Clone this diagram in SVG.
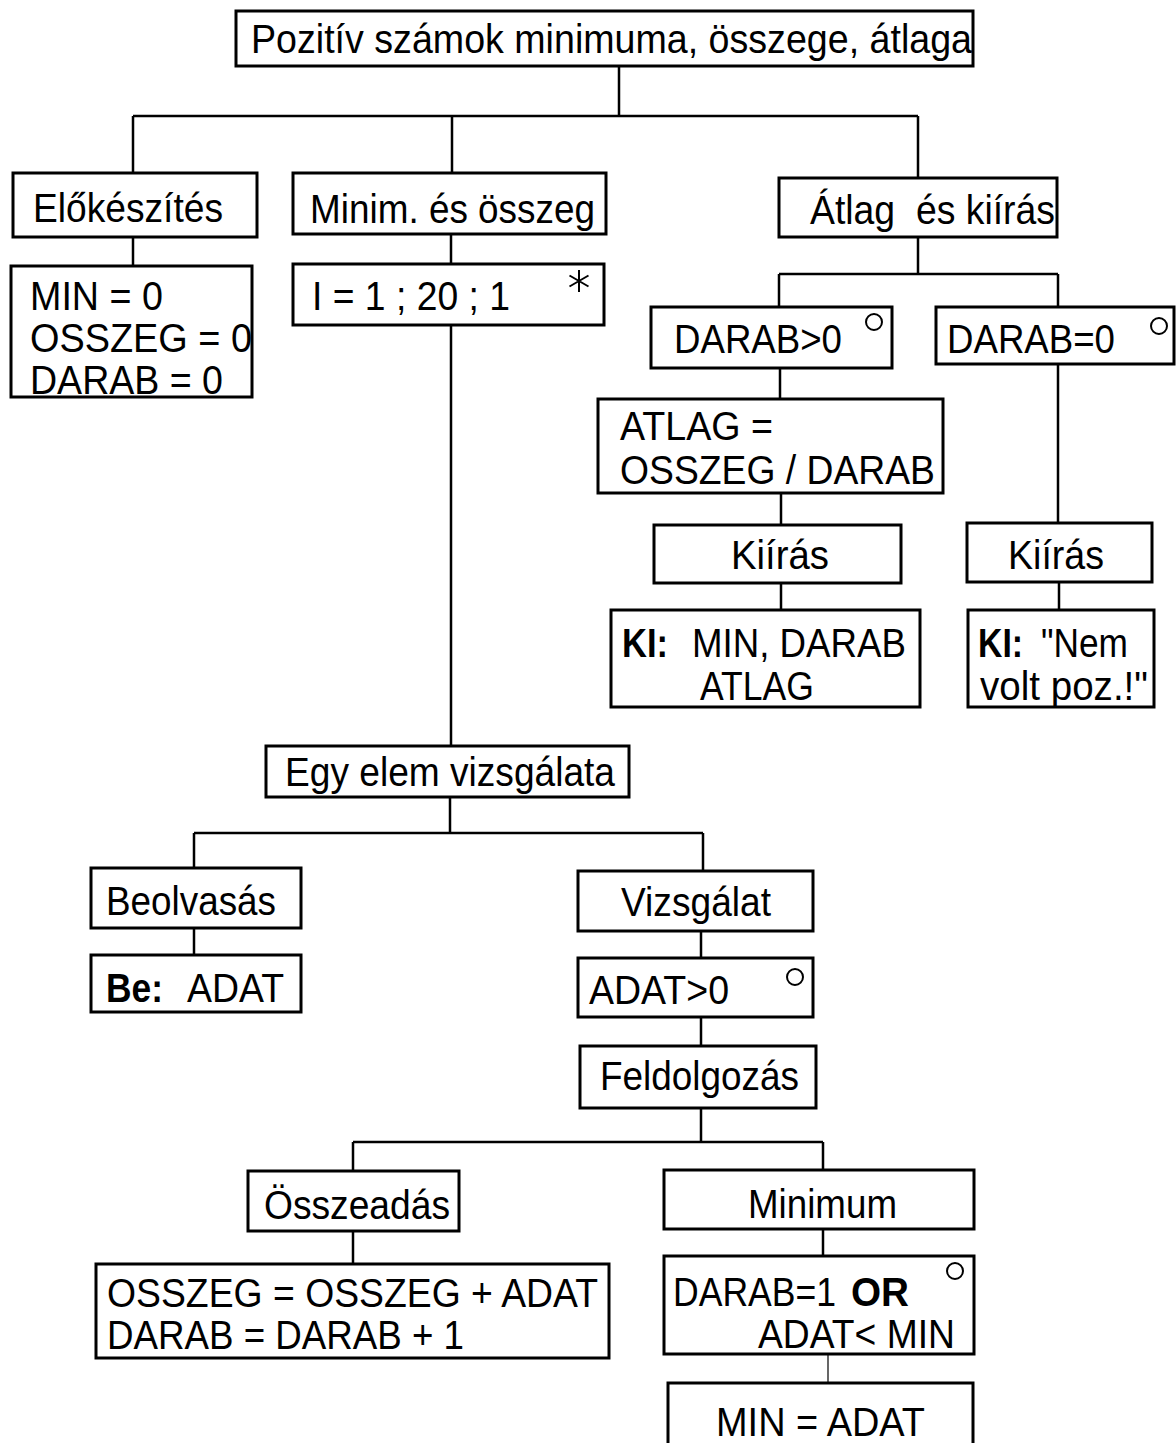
<svg xmlns="http://www.w3.org/2000/svg" width="1176" height="1443" viewBox="0 0 1176 1443">
  <style>
    .box { fill: #fff; stroke: #000; stroke-width: 3; }
    .t { font-family: "Liberation Sans", Arial, sans-serif; font-size: 41px; fill: #000; }
    .b { font-weight: bold; }
    .ln { fill: none; stroke: #000; stroke-width: 2.5; }
    .thin { fill: none; stroke: #000; stroke-width: 1.2; }
    .mark { fill: none; stroke: #000; stroke-width: 2; }
  </style>
  <rect width="1176" height="1443" fill="#fff"/>

  <!-- tree connectors -->
  <g id="connectors">
    <path class="ln" d="M619 66 V116 M133 116 H918 M133 116 V173 M452 116 V173 M918 116 V178"/>
    <path class="ln" d="M133 237 V266"/>
    <path class="ln" d="M451 234 V264 M451 325 V746"/>
    <path class="ln" d="M918 237 V274 M779 274 H1058 M779 274 V307 M1058 274 V307"/>
    <path class="ln" d="M780 368 V399 M781 493 V525 M781 583 V610"/>
    <path class="ln" d="M1058 364 V523 M1059 582 V610"/>
    <path class="ln" d="M450 797 V833 M194 833 H703 M194 833 V868 M703 833 V871"/>
    <path class="ln" d="M194 928 V955"/>
    <path class="ln" d="M701 931 V958 M701 1017 V1046 M701 1108 V1142 M353 1142 H823 M353 1142 V1171 M823 1142 V1170"/>
    <path class="ln" d="M353 1231 V1264"/>
    <path class="ln" d="M823 1229 V1256"/>
    <path class="thin" d="M828 1354 V1383"/>
  </g>

  <g id="root">
    <rect class="box" x="236" y="11" width="737" height="55"/>
    <text class="t" x="251" y="53" textLength="721" lengthAdjust="spacingAndGlyphs">Pozitív számok minimuma, összege, átlaga</text>
  </g>

  <g id="elokeszites">
    <rect class="box" x="13" y="173" width="244" height="64"/>
    <text class="t" x="33" y="222" textLength="190" lengthAdjust="spacingAndGlyphs">Előkészítés</text>
  </g>
  <g id="init">
    <rect class="box" x="11" y="266" width="241" height="131"/>
    <text class="t" x="30" y="310" textLength="133" lengthAdjust="spacingAndGlyphs">MIN = 0</text>
    <text class="t" x="30" y="352" textLength="222" lengthAdjust="spacingAndGlyphs">OSSZEG = 0</text>
    <text class="t" x="30" y="394" textLength="193" lengthAdjust="spacingAndGlyphs">DARAB = 0</text>
  </g>

  <g id="minim-osszeg">
    <rect class="box" x="293" y="173" width="313" height="61"/>
    <text class="t" x="310" y="223" textLength="285" lengthAdjust="spacingAndGlyphs">Minim. és összeg</text>
  </g>
  <g id="ciklus">
    <rect class="box" x="293" y="264" width="311" height="61"/>
    <text class="t" x="312" y="310" textLength="198" lengthAdjust="spacingAndGlyphs">I = 1 ; 20 ; 1</text>
    <path class="mark" stroke-width="1.6" d="M579 270 V292 M569.5 275.5 L588.5 286.5 M569.5 286.5 L588.5 275.5"/>
  </g>

  <g id="atlag-kiiras">
    <rect class="box" x="779" y="178" width="278" height="59"/>
    <text class="t" x="810" y="224" textLength="245" lengthAdjust="spacingAndGlyphs" xml:space="preserve">Átlag  és kiírás</text>
  </g>
  <g id="darab-pozitiv">
    <rect class="box" x="651" y="307" width="241" height="61"/>
    <text class="t" x="674" y="353" textLength="168" lengthAdjust="spacingAndGlyphs">DARAB&gt;0</text>
    <circle class="mark" cx="874" cy="322" r="8"/>
  </g>
  <g id="atlag-szamitas">
    <rect class="box" x="598" y="399" width="345" height="94"/>
    <text class="t" x="620" y="440" textLength="153" lengthAdjust="spacingAndGlyphs">ATLAG =</text>
    <text class="t" x="620" y="484" textLength="315" lengthAdjust="spacingAndGlyphs">OSSZEG / DARAB</text>
  </g>
  <g id="kiiras-1">
    <rect class="box" x="654" y="525" width="247" height="58"/>
    <text class="t" x="731" y="569" textLength="98" lengthAdjust="spacingAndGlyphs">Kiírás</text>
  </g>
  <g id="ki-1">
    <rect class="box" x="611" y="610" width="309" height="97"/>
    <text class="t b" x="622" y="657" textLength="46" lengthAdjust="spacingAndGlyphs">KI:</text>
    <text class="t" x="692" y="657" textLength="214" lengthAdjust="spacingAndGlyphs">MIN, DARAB</text>
    <text class="t" x="700" y="700" textLength="114" lengthAdjust="spacingAndGlyphs">ATLAG</text>
  </g>

  <g id="darab-nulla">
    <rect class="box" x="936" y="307" width="238" height="57"/>
    <text class="t" x="947" y="353" textLength="168" lengthAdjust="spacingAndGlyphs">DARAB=0</text>
    <circle class="mark" cx="1159" cy="326" r="8"/>
  </g>
  <g id="kiiras-2">
    <rect class="box" x="967" y="523" width="185" height="59"/>
    <text class="t" x="1008" y="569" textLength="96" lengthAdjust="spacingAndGlyphs">Kiírás</text>
  </g>
  <g id="ki-2">
    <rect class="box" x="968" y="610" width="186" height="97"/>
    <text class="t b" x="978" y="657" textLength="45" lengthAdjust="spacingAndGlyphs">KI:</text>
    <text class="t" x="1041" y="657" textLength="87" lengthAdjust="spacingAndGlyphs">"Nem</text>
    <text class="t" x="980" y="700" textLength="168" lengthAdjust="spacingAndGlyphs">volt poz.!"</text>
  </g>

  <g id="egy-elem">
    <rect class="box" x="266" y="746" width="363" height="51"/>
    <text class="t" x="285" y="786" textLength="330" lengthAdjust="spacingAndGlyphs">Egy elem vizsgálata</text>
  </g>
  <g id="beolvasas">
    <rect class="box" x="91" y="868" width="210" height="60"/>
    <text class="t" x="106" y="915" textLength="170" lengthAdjust="spacingAndGlyphs">Beolvasás</text>
  </g>
  <g id="be-adat">
    <rect class="box" x="91" y="955" width="210" height="57"/>
    <text class="t b" x="106" y="1002" textLength="57" lengthAdjust="spacingAndGlyphs">Be:</text>
    <text class="t" x="187" y="1002" textLength="97" lengthAdjust="spacingAndGlyphs">ADAT</text>
  </g>
  <g id="vizsgalat">
    <rect class="box" x="578" y="871" width="235" height="60"/>
    <text class="t" x="621" y="916" textLength="150" lengthAdjust="spacingAndGlyphs">Vizsgálat</text>
  </g>
  <g id="adat-pozitiv">
    <rect class="box" x="578" y="958" width="235" height="59"/>
    <text class="t" x="589" y="1004" textLength="140" lengthAdjust="spacingAndGlyphs">ADAT&gt;0</text>
    <circle class="mark" cx="795" cy="977" r="8"/>
  </g>
  <g id="feldolgozas">
    <rect class="box" x="580" y="1046" width="236" height="62"/>
    <text class="t" x="600" y="1090" textLength="199" lengthAdjust="spacingAndGlyphs">Feldolgozás</text>
  </g>

  <g id="osszeadas">
    <rect class="box" x="248" y="1171" width="211" height="60"/>
    <text class="t" x="264" y="1219" textLength="186" lengthAdjust="spacingAndGlyphs">Összeadás</text>
  </g>
  <g id="osszeg-novel">
    <rect class="box" x="96" y="1264" width="513" height="94"/>
    <text class="t" x="107" y="1307" textLength="491" lengthAdjust="spacingAndGlyphs">OSSZEG = OSSZEG + ADAT</text>
    <text class="t" x="107" y="1349" textLength="357" lengthAdjust="spacingAndGlyphs">DARAB = DARAB + 1</text>
  </g>

  <g id="minimum">
    <rect class="box" x="664" y="1170" width="310" height="59"/>
    <text class="t" x="748" y="1218" textLength="149" lengthAdjust="spacingAndGlyphs">Minimum</text>
  </g>
  <g id="min-feltetel">
    <rect class="box" x="664" y="1256" width="310" height="98"/>
    <text class="t" x="673" y="1306" font-size="37" textLength="163" lengthAdjust="spacingAndGlyphs">DARAB=1</text>
    <text class="t b" x="851" y="1306" textLength="58" lengthAdjust="spacingAndGlyphs">OR</text>
    <text class="t" x="758" y="1348" textLength="197" lengthAdjust="spacingAndGlyphs">ADAT&lt; MIN</text>
    <circle class="mark" cx="955" cy="1271" r="8"/>
  </g>
  <g id="min-ertekadas">
    <rect class="box" x="668" y="1383" width="305" height="80"/>
    <text class="t" x="716" y="1436" textLength="209" lengthAdjust="spacingAndGlyphs">MIN = ADAT</text>
  </g>
</svg>
